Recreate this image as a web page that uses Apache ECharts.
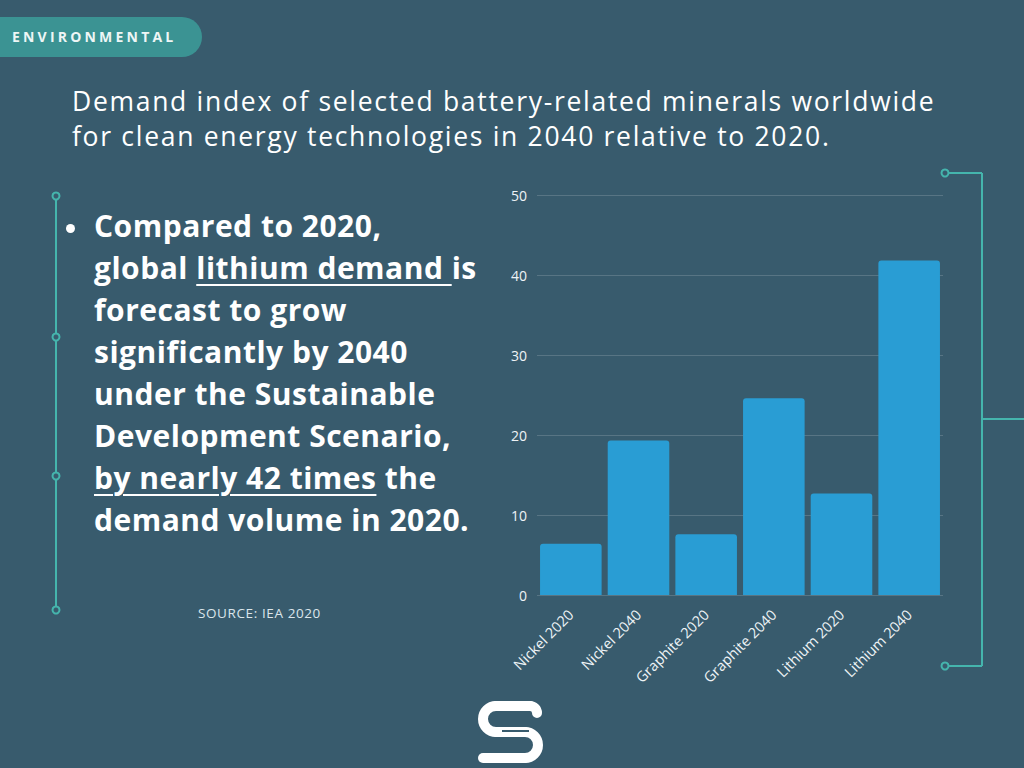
<!DOCTYPE html>
<html>
<head>
<meta charset="utf-8">
<script src="https://cdn.jsdelivr.net/npm/echarts@6/dist/echarts.min.js"></script>
<style>
  html, body { margin: 0; padding: 0; background: #385b6d; }
  #wrap { position: relative; width: 1024px; height: 768px; overflow: hidden; background: #385b6d; font-family: "Open Sans", Lato, sans-serif; }
  #chart { position: absolute; left: 0; top: 0; width: 1024px; height: 768px; }
  .tag { position: absolute; left: 0; top: 17px; width: 202px; height: 40px; background: #3b9393; border-radius: 0 20px 20px 0; color: #eef6f6; font-weight: 700; font-size: 14px; letter-spacing: 3.2px; line-height: 40px; padding-left: 12px; box-sizing: border-box; white-space: nowrap; }
  .title { position: absolute; left: 72px; top: 84px; color: #ffffff; font-size: 26.5px; line-height: 35px; font-weight: 400; letter-spacing: 1.7px; white-space: nowrap; }
  .bullet { position: absolute; left: 94px; top: 205px; width: 420px; color: #ffffff; font-size: 30px; line-height: 42px; font-weight: 700; letter-spacing: 0.5px; white-space: nowrap; }
  .bullet u { text-decoration-thickness: 2px; text-underline-offset: 5px; }
  .dot { position: absolute; left: 66px; top: 224px; width: 9px; height: 9px; border-radius: 50%; background: #ffffff; }
  .source { position: absolute; left: 198px; top: 604px; color: #dbe6ec; font-size: 13.5px; letter-spacing: 0.6px; white-space: nowrap; }
</style>
</head>
<body>
<div id="wrap">
  <div id="chart"></div>
  <div class="tag">ENVIRONMENTAL</div>
  <div class="title">Demand index of selected battery-related minerals worldwide<br>for clean energy technologies in 2040 relative to 2020.</div>
  <div class="dot"></div>
  <div class="bullet">Compared to 2020,<br>global <u>lithium demand </u>is<br>forecast to grow<br>significantly by 2040<br>under the Sustainable<br>Development Scenario,<br><u>by nearly 42 times</u> the<br>demand volume in 2020.</div>
  <div class="source">SOURCE: IEA 2020</div>
</div>
<script>
const categories = ['Nickel 2020', 'Nickel 2040', 'Graphite 2020', 'Graphite 2040', 'Lithium 2020', 'Lithium 2040'];
const demandIndex = [6.4, 19.3, 7.6, 24.6, 12.7, 41.8];
const yTicks = [0, 10, 20, 30, 40, 50];

const teal = '#45b5ad';
const bg = '#385b6d';
const chart = echarts.init(document.getElementById('chart'), null, { renderer: 'svg' });

function circ(x, y) {
  return { type: 'circle', shape: { cx: x, cy: y, r: 3.5 }, style: { fill: bg, stroke: teal, lineWidth: 2 }, z: 10 };
}
function line(x1, y1, x2, y2) {
  return { type: 'line', shape: { x1, y1, x2, y2 }, style: { stroke: teal, lineWidth: 2 }, z: 5 };
}
const logoStyle = { stroke: '#ffffff', lineWidth: 10, fill: null, lineCap: 'round' };
function lline(x1, y1, x2, y2) {
  return { type: 'line', shape: { x1, y1, x2, y2 }, style: logoStyle, z: 15 };
}
function larc(cx, cy, r, s, e) {
  return { type: 'arc', shape: { cx, cy, r, startAngle: s, endAngle: e, clockwise: true }, style: logoStyle, z: 15 };
}

chart.setOption({
  backgroundColor: bg,
  animation: false,
  grid: { left: 537, right: 81, top: 195, bottom: 173, containLabel: false },
  xAxis: {
    type: 'category',
    data: categories,
    axisLine: { show: false },
    axisTick: { show: false },
    axisLabel: { rotate: 45, color: '#eef3f6', fontSize: 14.5, fontFamily: 'Open Sans', margin: 17, interval: 0 }
  },
  yAxis: {
    type: 'value',
    min: yTicks[0],
    max: yTicks[yTicks.length - 1],
    interval: 10,
    axisLine: { show: false },
    axisTick: { show: false },
    axisLabel: { color: '#eef3f6', fontSize: 14, fontFamily: 'Open Sans', margin: 10 },
    splitLine: { lineStyle: { color: 'rgba(255,255,255,0.16)', width: 1 } }
  },
  series: [{
    type: 'bar',
    data: demandIndex,
    barCategoryGap: '9%',
    itemStyle: { color: '#299dd4', borderRadius: [3, 3, 0, 0] }
  }],
  graphic: [
    line(56, 196, 56, 610),
    circ(56, 196), circ(56, 337), circ(56, 476), circ(56, 610),
    line(949, 173, 982, 173),
    line(982, 173, 982, 666),
    line(949, 666, 982, 666),
    line(982, 419, 1024, 419),
    circ(945, 173), circ(945, 666),
    lline(496, 706, 530, 706),
    larc(530, 713, 7, -Math.PI / 2, 0),
    larc(496, 719, 13, Math.PI / 2, 3 * Math.PI / 2),
    lline(496, 732, 525, 732),
    larc(525, 745, 13, -Math.PI / 2, Math.PI / 2),
    lline(525, 758, 483, 758),
    {
      type: 'line', shape: { x1: 502, y1: 731, x2: 529, y2: 731 },
      style: { stroke: bg, lineWidth: 2 }, z: 20
    }
  ]
});
</script>
</body>
</html>
